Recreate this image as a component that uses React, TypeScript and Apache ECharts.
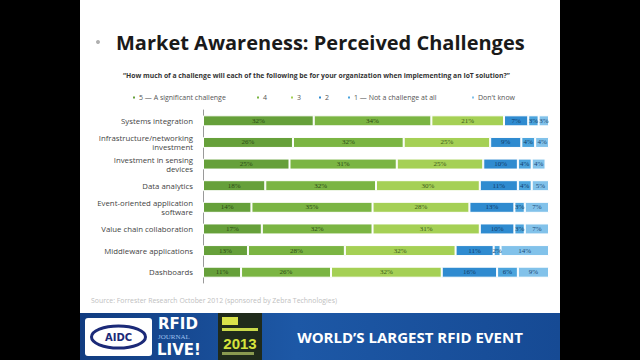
import React, { useEffect, useRef } from "react";
import * as echarts from "echarts";

const categories = [
  "Systems integration",
  "Infrastructure/networking\ninvestment",
  "Investment in sensing\ndevices",
  "Data analytics",
  "Event-oriented application\nsoftware",
  "Value chain collaboration",
  "Middleware applications",
  "Dashboards",
];

const seriesNames = [
  "5 \u2014 A significant challenge",
  "4",
  "3",
  "2",
  "1 \u2014 Not a challenge at all",
  "Don't know",
];

const s5 = [32, 26, 25, 18, 14, 17, 13, 11];
const s4 = [34, 32, 31, 32, 35, 32, 28, 26];
const s3 = [21, 25, 25, 30, 28, 31, 32, 32];
const s2 = [7, 9, 10, 11, 13, 10, 11, 16];
const s1 = [3, 4, 4, 4, 3, 3, 2, 6];
const sDK = [3, 4, 4, 5, 7, 7, 14, 9];

const seriesValues = [s5, s4, s3, s2, s1, sDK];
const colors = ["#66a03a", "#7bb543", "#a5d055", "#2f8bd0", "#4ba4dd", "#82c2ea"];
const labelColors = ["#2c4a16", "#2c4a16", "#3c5a1a", "#123d6a", "#123d6a", "#1a4a78"];
const legendLeft = [131, 255, 289, 317, 346, 470];

export default function App() {
  const ref = useRef<HTMLDivElement>(null);
  useEffect(() => {
    if (!ref.current) return;
    const chart = echarts.init(ref.current, null, { renderer: "svg" });
    const option: any = {
      animation: false,
      backgroundColor: "#000000",
      grid: { left: 203, right: 91, top: 110, bottom: 77 },
      xAxis: { type: "value", min: 0, max: 100, show: false },
      yAxis: {
        type: "category",
        data: categories,
        inverse: true,
        axisLine: { show: true, lineStyle: { color: "#9a9a9a", width: 1 } },
        axisTick: { show: false },
        axisLabel: {
          color: "#444",
          fontSize: 7.8,
          lineHeight: 9,
          margin: 10,
          align: "right",
          fontFamily: "Open Sans",
        },
      },
      legend: seriesNames.map((n, i) => ({
        data: [n],
        left: legendLeft[i],
        top: 94,
        icon: "rect",
        itemWidth: 4,
        itemHeight: 4,
        padding: 0,
        textStyle: { fontSize: 7, color: "#555", fontFamily: "Open Sans", padding: [0, 0, 0, -2] },
      })),
      series: seriesNames.map((n, i) => ({
        name: n,
        type: "bar",
        stack: "total",
        barWidth: 11,
        data: seriesValues[i],
        itemStyle: { color: colors[i], borderColor: "#ffffff", borderWidth: 1 },
        label: {
          show: true,
          position: "inside",
          formatter: "{c}%",
          fontSize: 7,
          color: labelColors[i],
          fontFamily: "Liberation Serif",
        },
      })),
      graphic: [
        { type: "rect", z: -10, shape: { x: 80, y: 0, width: 480, height: 313 }, style: { fill: "#ffffff" } },
        { type: "circle", shape: { cx: 98, cy: 42, r: 2 }, style: { fill: "#b0b0b0" } },
        {
          type: "text",
          left: 116,
          top: 32,
          style: {
            text: "Market Awareness: Perceived Challenges",
            fontSize: 20,
            fontWeight: "bold",
            fontFamily: "Open Sans",
            fill: "#1a1a1a",
          },
        },
        {
          type: "text",
          left: 123,
          top: 72,
          style: {
            text: "\u201cHow much of a challenge will each of the following be for your organization when implementing an IoT solution?\u201d",
            fontSize: 6.8,
            fontWeight: "bold",
            fontFamily: "Open Sans",
            fill: "#333",
          },
        },
        {
          type: "text",
          left: 91,
          top: 297,
          style: {
            text: "Source: Forrester Research October 2012 (sponsored by Zebra Technologies)",
            fontSize: 6.9,
            fontFamily: "Open Sans",
            fill: "#c0c0c0",
          },
        },
        {
          type: "rect",
          shape: { x: 80, y: 313, width: 480, height: 47 },
          style: {
            fill: new echarts.graphic.LinearGradient(0, 0, 1, 0, [
              { offset: 0, color: "#113c80" },
              { offset: 0.45, color: "#1d58a6" },
              { offset: 1, color: "#164a94" },
            ]),
          },
        },
        { type: "rect", shape: { x: 85, y: 318, width: 67, height: 38, r: 3 }, style: { fill: "#ffffff" } },
        { type: "ellipse", shape: { cx: 118.5, cy: 337, rx: 27, ry: 11 }, style: { fill: "none", stroke: "#1b2a78", lineWidth: 3 } },
        {
          type: "text",
          style: { x: 118.5, y: 337, text: "AIDC", align: "center", verticalAlign: "middle", fontSize: 10, fontWeight: "bold", fontFamily: "DejaVu Sans", fill: "#1b2a78" },
        },
        {
          type: "text",
          style: { x: 158, y: 324, text: "RFID", verticalAlign: "middle", fontSize: 15, fontWeight: "bold", fontFamily: "DejaVu Sans", fill: "#ffffff" },
        },
        {
          type: "text",
          style: { x: 158, y: 337, text: "JOURNAL", verticalAlign: "middle", fontSize: 7, fontFamily: "Liberation Serif", fill: "#9fc0ef" },
        },
        {
          type: "text",
          style: { x: 157, y: 350, text: "LIVE!", verticalAlign: "middle", fontSize: 15, fontWeight: "bold", fontFamily: "DejaVu Sans", fill: "#ffffff" },
        },
        { type: "rect", shape: { x: 218, y: 313, width: 44, height: 47 }, style: { fill: "#1f2a1b" } },
        { type: "rect", shape: { x: 222, y: 317, width: 16, height: 8 }, style: { fill: "#d9e24a" } },
        { type: "rect", shape: { x: 222, y: 328, width: 36, height: 3 }, style: { fill: "#c9d84a" } },
        {
          type: "text",
          style: { x: 240, y: 343, text: "2013", align: "center", verticalAlign: "middle", fontSize: 15, fontWeight: "bold", fontFamily: "Liberation Sans", fill: "#d6e43c" },
        },
        { type: "rect", shape: { x: 222, y: 352, width: 32, height: 3 }, style: { fill: "#8a9a50" } },
        {
          type: "text",
          style: { x: 410, y: 337, text: "WORLD\u2019S LARGEST RFID EVENT", align: "center", verticalAlign: "middle", fontSize: 15, fontWeight: "bold", fontFamily: "Open Sans", fill: "#ffffff" },
        },
      ],
    };
    chart.setOption(option);
    return () => chart.dispose();
  }, []);
  return (
    <div
      ref={ref}
      style={{ position: "fixed", left: 0, top: 0, width: 640, height: 360 }}
    />
  );
}
